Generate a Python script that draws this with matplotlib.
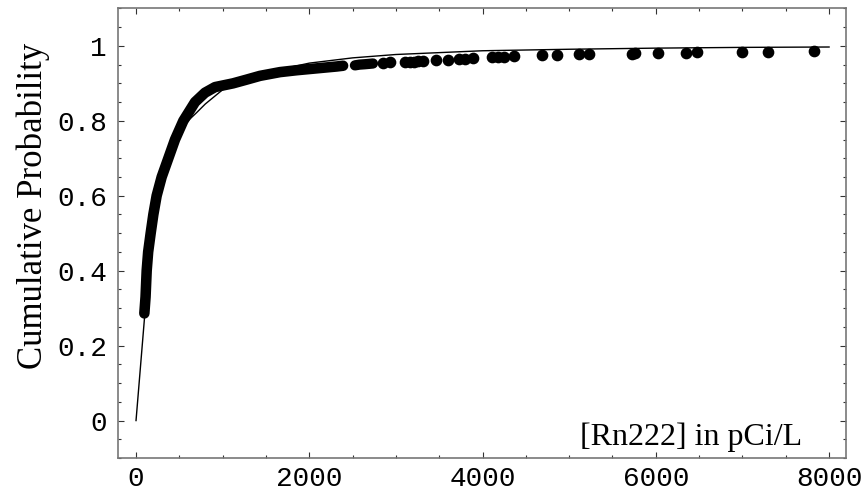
import numpy as np
import matplotlib
matplotlib.use('Agg')
from matplotlib import pyplot as plt
from matplotlib.ticker import MultipleLocator, FixedLocator

# fitted curve
fit_x = [0, 50, 100, 150, 200, 300, 400, 500, 600, 700, 800, 1000,
         1200, 1500, 2000, 2500, 3000, 4000, 5000, 6000, 7000, 8000]
fit_y = [0.0, 0.14, 0.28, 0.46, 0.55, 0.645, 0.715, 0.765, 0.80, 0.822,
         0.845, 0.883, 0.903, 0.929, 0.954, 0.968, 0.977, 0.987, 0.991, 0.994,
         0.996, 0.997]

# dense part of the measured points (dots overlap into a band)
band_x = [96, 110, 123, 140, 169, 200, 238, 296, 373, 450, 546, 681, 796, 912,
          1120, 1277, 1431, 1662, 1854, 2085, 2316, 2390]
band_y = [0.286, 0.33, 0.40, 0.45, 0.50, 0.55, 0.60, 0.65, 0.70, 0.75, 0.80, 0.85,
          0.875, 0.89, 0.90, 0.91, 0.92, 0.93, 0.935, 0.94, 0.945, 0.947]

group_x = [2527, 2580, 2640, 2690, 2735]
group_y = [0.948, 0.950, 0.951, 0.952, 0.953]

# sparse tail points
tail_x = [2854, 2931, 3104, 3160, 3210, 3260, 3312, 3462, 3597, 3727, 3797, 3885,
          4104, 4181, 4247, 4366, 4689, 4855, 5116, 5232, 5728, 5759, 6020, 6347,
          6477, 6990, 7297, 7828]
tail_y = [0.955, 0.956, 0.957, 0.958, 0.958, 0.959, 0.960, 0.962, 0.963, 0.965,
          0.966, 0.967, 0.969, 0.970, 0.971, 0.972, 0.975, 0.976, 0.977, 0.978,
          0.979, 0.980, 0.981, 0.982, 0.983, 0.984, 0.985, 0.987]

fig = plt.figure(figsize=(8.62, 4.95), dpi=100)
ax = fig.add_axes([0.1369, 0.0747, 0.8445, 0.9083])

ax.plot(fit_x, fit_y, color='black', lw=1.0, zorder=2)
ax.plot(band_x, band_y, color='black', lw=7.6, solid_capstyle='round',
        solid_joinstyle='round', zorder=3)
ax.plot(group_x, group_y, color='black', lw=7.4, solid_capstyle='round', zorder=3)
ax.plot(tail_x, tail_y, 'o', color='black', ms=7.4, mec='black', zorder=3)

ax.set_xlim(-208, 8195)
ax.set_ylim(-0.1, 1.1)

ax.xaxis.set_major_locator(FixedLocator([0, 2000, 4000, 6000, 8000]))
ax.xaxis.set_minor_locator(MultipleLocator(500))
ax.yaxis.set_major_locator(FixedLocator([0, 0.2, 0.4, 0.6, 0.8, 1.0]))
ax.yaxis.set_minor_locator(MultipleLocator(0.05))
ax.set_yticklabels(['0', '0.2', '0.4', '0.6', '0.8', '1'])
ax.set_xticklabels(['0', '2000', '4000', '6000', '8000'])

ax.tick_params(which='both', direction='in', top=True, right=True,
               color='#333333', width=0.8)
ax.tick_params(which='major', length=4, pad=8, labelsize=20)
ax.tick_params(axis='x', which='major', pad=6)
ax.tick_params(which='minor', length=2.2)
for lab in ax.get_xticklabels() + ax.get_yticklabels():
    lab.set_family('Liberation Mono')

for s in ax.spines.values():
    s.set_color('#777777')
    s.set_linewidth(1.2)

ax.set_ylabel('Cumulative Probability', family='Liberation Serif', fontsize=25)
ax.yaxis.set_label_coords(-0.094, 0.56)
ax.text(7690, -0.045, '[Rn222] in pCi/L', family='Liberation Serif', fontsize=23,
        ha='right', va='center')

fig.savefig('out.png', dpi=100)
